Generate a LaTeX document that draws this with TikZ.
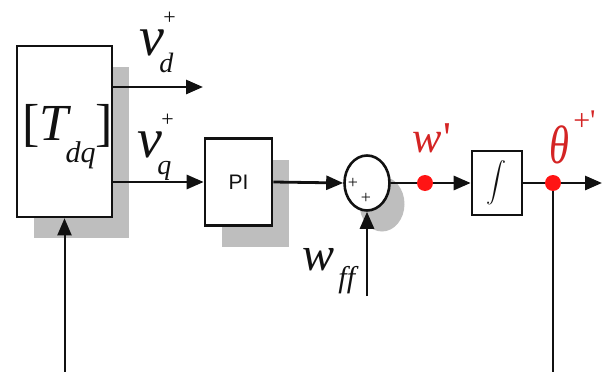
\documentclass[tikz,border=0pt]{standalone}
\usepackage{graphicx}
\usepackage{fontspec}
\setmainfont{Liberation Serif}
\newfontfamily\blocksans{Liberation Sans}
\usetikzlibrary{arrows.meta,shapes.geometric,shadows}
\definecolor{ctrlInk}{HTML}{111111}
\definecolor{ctrlShade}{HTML}{BEBEBE}
\definecolor{ctrlRed}{HTML}{FF1414}
\definecolor{ctrlLabelRed}{HTML}{D42424}
% italic signal name with raised and lowered index
\newcommand\sigvar[3]{\textit{#1}\kern-0.5pt\rlap{\raisebox{15.5pt}{\fontsize{11}{11}\selectfont #2}}\kern-2pt\raisebox{-9pt}{\fontsize{14}{14}\selectfont\textit{#3}}}
\tikzset{
  every picture/.style={text=ctrlInk},
  ctrl block/.style={draw=ctrlInk, line width=1.3pt, fill=white, inner sep=0pt},
  ctrl shade/.style={drop shadow={shadow xshift=8.5pt, shadow yshift=-10.5pt,
    fill=ctrlShade, opacity=1}},
  ctrl sum/.style={ctrl block, ellipse, minimum width=22.5pt, minimum height=27.5pt,
    drop shadow={shadow xshift=7.5pt, shadow yshift=-10.5pt, fill=ctrlShade, opacity=1}},
  ctrl dot/.style={circle, fill=ctrlRed, minimum size=8pt, inner sep=0pt},
  ctrl arrow/.style={-{Triangle[length=8.5pt,width=7pt]}, draw=ctrlInk, line width=1.4pt},
  ctrl line/.style={draw=ctrlInk, line width=1.4pt},
  ctrl feedback/.style={-{Triangle[length=8.5pt,width=7pt]}, draw=ctrlInk, line width=1pt},
  sig label/.style={inner sep=0pt, anchor=base west, font=\fontsize{28}{30}\selectfont},
  red label/.style={sig label, text=ctrlLabelRed}
}
\begin{document}
\begin{tikzpicture}[x=0.5pt,y=0.5pt]
  \useasboundingbox (0,0) rectangle (607,371);
  % blocks
  \node[ctrl block, ctrl shade, minimum width=47.5pt, minimum height=85.5pt] (tdq) at (64.5,239.5) {};
  \node[ctrl block, ctrl shade, minimum width=33.5pt, minimum height=43.5pt,
    font=\blocksans\fontsize{10.5}{12}\selectfont] (pi) at (238.5,189) {PI};
  \node[ctrl sum] (sum) at (367,188) {};
  \node[font=\fontsize{9}{9}\selectfont, inner sep=0pt] (sumplusa) at (353,188) {+};
  \node[font=\fontsize{9}{9}\selectfont, inner sep=0pt] (sumplusb) at (366,173) {+};
  \node[ctrl block, minimum width=25pt, minimum height=32pt] (integ) at (497,188)
    {\fontsize{13}{13}\selectfont$\displaystyle\int$};
  \node[ctrl dot] (wdot) at (425,188) {};
  \node[ctrl dot] (thetadot) at (553,188) {};
  % free ends
  \coordinate (vdout) at (203,284);
  \coordinate (thetaout) at (602,188);
  \coordinate (wffin) at (367,75);
  \coordinate (fbcorner) at (553,-20);
  % connectors
  \draw[ctrl arrow] (tdq.east |- vdout) -- (vdout);
  \draw[ctrl arrow] (tdq.east |- pi.west) -- (pi.west);
  \draw[ctrl arrow] (pi.east) -- (sum.west);
  \draw[ctrl arrow] (wffin) -- (sum.south);
  \draw[ctrl line] (sum.east) -- (wdot.west);
  \draw[ctrl arrow] (wdot.east) -- (integ.west);
  \draw[ctrl line] (integ.east) -- (thetadot.west);
  \draw[ctrl arrow] (thetadot.east) -- (thetaout);
  \draw[ctrl feedback] (thetadot.south) -- (fbcorner) -| (tdq.south);
  % labels
  \node[sig label, font=\fontsize{26}{28}\selectfont] (tdqlbl) at (22,231)
    {[\textit{T}\kern-3pt\raisebox{-11pt}{\fontsize{15}{15}\selectfont\textit{dq}}]};
  \node[sig label] (vdlbl) at (139,316) {\sigvar{v}{+}{d}};
  \node[sig label] (vqlbl) at (137,214) {\sigvar{v}{+}{q}};
  \node[sig label, font=\fontsize{24}{26}\selectfont] (wfflbl) at (302,101)
    {\textit{w}\kern2pt\raisebox{-8.5pt}{\fontsize{15}{15}\selectfont\textit{ff}}};
  \node[red label, font=\fontsize{22}{24}\selectfont] (wlbl) at (412,219)
    {\textit{w}\kern1pt\textquotesingle};
  \node[red label, font=\fontsize{27}{29}\selectfont] (thetalbl) at (549,208)
    {\scalebox{0.75}[1]{\textit{θ}}\kern2pt\raisebox{16.5pt}{\fontsize{15}{15}\selectfont +\textquotesingle}};
\end{tikzpicture}
\end{document}
